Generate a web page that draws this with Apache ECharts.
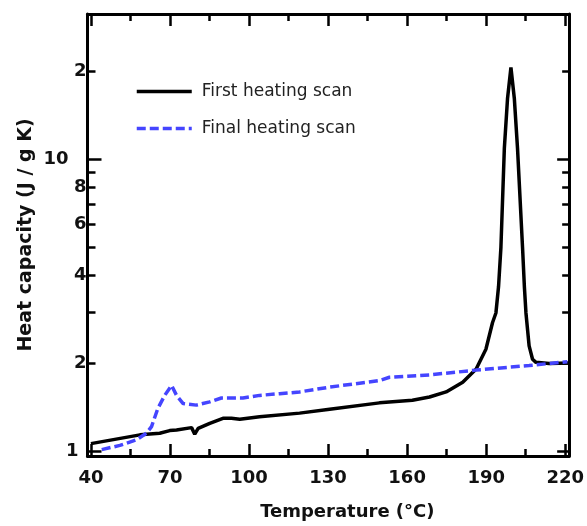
<!DOCTYPE html>
<html>
<head>
<meta charset="utf-8">
<script src="https://cdn.jsdelivr.net/npm/echarts@6/dist/echarts.min.js"></script>
<style>
  html, body { margin: 0; padding: 0; background: #fff; }
  #main { width: 587px; height: 526px; }
</style>
</head>
<body>
<div id="main"></div>
<script>
// 第一次加热扫描 (black)
var firstT = [40, 58.6, 66.1, 69.9, 72.5, 78.2, 79.4, 80.7, 85.1, 90.1, 93.3, 96.5, 104, 119.2, 130.6, 149.5, 162, 168.5, 174.8, 181.1, 186.2, 189.9, 192.4, 193.7, 194.7, 195.6, 196.9, 198.1, 199.4, 200.7, 201.9, 203.8, 204.5, 205.1, 206.3, 207.6, 208.9, 213.9, 221.5];
var firstCp = [1.065, 1.141, 1.156, 1.18, 1.186, 1.208, 1.147, 1.2, 1.25, 1.3, 1.3, 1.29, 1.316, 1.354, 1.397, 1.468, 1.498, 1.538, 1.6, 1.728, 1.918, 2.24, 2.76, 2.98, 3.67, 5.0, 10.9, 16.1, 20.6, 16.1, 10.9, 5.0, 3.67, 2.98, 2.30, 2.07, 2.02, 2.0, 2.01];

// 最后一次加热扫描 (blue dashed)
var finalT = [44.1, 51, 57.3, 61.1, 63, 65.4, 68, 70.6, 72.5, 75, 80, 85.1, 89.5, 97.7, 104, 111.6, 119.2, 130.6, 149.5, 153.3, 168.5, 186.2, 206.3, 220.8];
var finalCp = [1.016, 1.05, 1.098, 1.157, 1.218, 1.405, 1.557, 1.684, 1.557, 1.46, 1.442, 1.479, 1.525, 1.525, 1.557, 1.578, 1.6, 1.662, 1.75, 1.796, 1.83, 1.9, 1.97, 2.03];

// 刻度
var xMajorTicks = [40, 70, 100, 130, 160, 190, 220];
var xMinorTicks = [55, 85, 115, 145, 175, 205];
var yTickValues = [1, 2, 4, 6, 8, 10, 20];
var yTickLabels = ['1', '2', '4', '6', '8', '10', '2'];
var yMinorTicks = [2, 3, 4, 5, 6, 7, 8, 9, 20];
var yMajorTicks = [1, 10];

var xMin = 38.7, xMax = 221.5;
var yMin = 0.966, yMax = 31.4;

var FONT = 'DejaVu Sans';
var lg = function (v) { return Math.log10(v); };

function zip(a, b) {
    return a.map(function (x, i) { return [x, b[i]]; });
}

var chart = echarts.init(document.getElementById('main'));

var frameLine = { show: true, onZero: false, lineStyle: { color: '#000', width: 3 } };
var noLine = { show: false, onZero: false };
var labelFont = { fontFamily: FONT, fontSize: 18, fontWeight: 'bold', color: '#111' };

function xAx(pos, ticks, len, withLine, withLabel) {
    return {
        type: 'value', min: xMin, max: xMax, position: pos,
        axisLine: withLine ? frameLine : noLine,
        splitLine: { show: false },
        axisTick: { show: true, inside: true, length: len, customValues: ticks, lineStyle: { color: '#000', width: 2.5 } },
        axisLabel: withLabel ? Object.assign({ show: true, margin: 13, customValues: xMajorTicks }, labelFont) : { show: false }
    };
}

function yAx(pos, ticks, len) {
    return {
        type: 'value', min: lg(yMin), max: lg(yMax), position: pos,
        axisLine: noLine,
        splitLine: { show: false },
        axisTick: { show: true, inside: true, length: len, customValues: ticks.map(lg), lineStyle: { color: '#000', width: 2.5 } },
        axisLabel: { show: false }
    };
}

var yLabelAxis = yAx('left', yMinorTicks, 8);
yLabelAxis.axisLabel = {
    show: true,
    margin: 1,
    customValues: yTickValues.map(lg),
    formatter: function (val) {
        var i = yTickValues.findIndex(function (v) { return Math.abs(lg(v) - val) < 1e-6; });
        if (i < 0) return '';
        if (yTickValues[i] === 10) return '{dec|' + yTickLabels[i] + '}';
        if (yTickValues[i] === 1) return '{one|' + yTickLabels[i] + '}';
        return '{n|' + yTickLabels[i] + '}';
    },
    rich: {
        n: Object.assign({}, labelFont),
        one: Object.assign({ padding: [0, 8, 0, 0] }, labelFont),
        dec: Object.assign({ padding: [0, 18, 0, 0] }, labelFont)
    }
};

var option = {
    backgroundColor: '#fff',
    animation: false,
    grid: { left: 87.5, right: 17, top: 14, bottom: 64.5, containLabel: false },
    legend: {
        orient: 'vertical',
        left: 135,
        top: 83,
        padding: 0,
        itemWidth: 55,
        itemHeight: 16,
        itemGap: 20,
        itemStyle: { opacity: 0 },
        lineStyle: { width: 3.5 },
        textStyle: { fontFamily: FONT, fontSize: 17, color: '#222', padding: [0, 0, 0, 5] },
        data: ['First heating scan', 'Final heating scan']
    },
    xAxis: [
        Object.assign(xAx('bottom', xMajorTicks, 12, true, true), {
            name: 'Temperature (°C)',
            nameLocation: 'middle',
            nameGap: 47,
            nameTextStyle: { fontFamily: FONT, fontSize: 18, fontWeight: 'bold', color: '#111', padding: [0, 0, 0, 38] }
        }),
        xAx('bottom', xMinorTicks, 7, false, false),
        xAx('top', xMajorTicks, 12, true, false),
        xAx('top', xMinorTicks, 7, false, false)
    ],
    yAxis: [
        {
            type: 'log', logBase: 10, min: yMin, max: yMax, position: 'left',
            axisLine: frameLine,
            splitLine: { show: false },
            axisTick: { show: false },
            axisLabel: { show: false },
            name: 'Heat capacity (J / g K)',
            nameLocation: 'middle',
            nameGap: 52,
            nameTextStyle: { fontFamily: FONT, fontSize: 19, fontWeight: 'bold', color: '#111' }
        },
        yLabelAxis,
        yAx('left', yMajorTicks, 14),
        {
            type: 'log', logBase: 10, min: yMin, max: yMax, position: 'right',
            axisLine: frameLine,
            splitLine: { show: false },
            axisTick: { show: false },
            axisLabel: { show: false }
        },
        yAx('right', yMinorTicks, 7),
        yAx('right', yMajorTicks, 12)
    ],
    series: [
        {
            name: 'First heating scan',
            type: 'line',
            xAxisIndex: 0,
            yAxisIndex: 0,
            data: zip(firstT, firstCp),
            symbol: 'none',
            color: '#000',
            lineStyle: { color: '#000', width: 3.5 }
        },
        {
            name: 'Final heating scan',
            type: 'line',
            xAxisIndex: 0,
            yAxisIndex: 0,
            data: zip(finalT, finalCp),
            symbol: 'none',
            color: '#4545ff',
            lineStyle: { color: '#4545ff', width: 3.5, type: [9, 4], cap: 'butt' }
        }
    ]
};

chart.setOption(option);
</script>
</body>
</html>
